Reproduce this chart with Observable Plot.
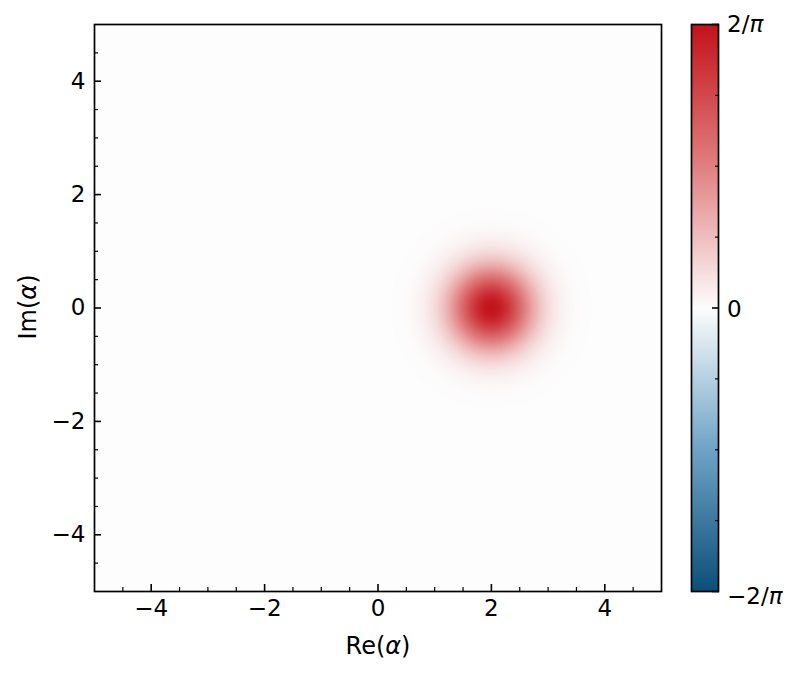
<!DOCTYPE html>
<html>
<head>
<meta charset="utf-8">
<script src="https://cdn.jsdelivr.net/npm/d3@7"></script>
<script src="https://cdn.jsdelivr.net/npm/@observablehq/plot@0.6"></script>
<style>
  html, body { margin: 0; padding: 0; background: #fff; }
  #wrap { position: relative; width: 804px; height: 673px; font-family: "DejaVu Sans", sans-serif; }
  #wrap svg { position: absolute; top: 0; overflow: visible; }
</style>
</head>
<body>
<div id="wrap"></div>
<script>
// ---- data ----
const peak = 2 / Math.PI;                 // colour limits ±2/π
const center = [2, 0];                    // blob centre (Re, Im)
// radial profile of the blob (distance from centre, fraction of peak)
const radius  = [0, 0.125, 0.25, 0.375, 0.5, 0.625, 0.75, 0.875, 1.0, 1.125, 1.25, 1.375, 1.5, 1.625, 1.75, 2.0, 2.5];
const profile = [1, 0.969, 0.882, 0.755, 0.607, 0.458, 0.325, 0.216, 0.135, 0.080, 0.044, 0.023, 0.011, 0.005, 0.002, 0.0003, 0];
const majorTicks = [-4, -2, 0, 2, 4];
const minorTicks = [-4.5, -3.5, -3, -2.5, -1.5, -1, -0.5, 0.5, 1, 1.5, 2.5, 3, 3.5, 4.5];
const cbarStops  = [-1, -0.5, 0, 0.5, 1];
const cbarColors = ["#0b4f78", "#6fa3c6", "#fdfdfd", "#e17f80", "#c3121a"];
const cbarMajor = [-1, 0, 1];
const cbarMinor = [-0.75, -0.5, -0.25, 0.25, 0.5, 0.75];
const cbarLabels = ["−2/", "0", "2/"];

const font = "DejaVu Sans, sans-serif";
const tickFont = 23;
const colorScale = {type: "linear", domain: cbarStops.map(d => d * peak), range: cbarColors, interpolate: "rgb", clamp: true};
const prof = d3.scaleLinear(radius, profile).clamp(true);
const fmt = d3.format("d");

const main = Plot.plot({
  width: 804, height: 673,
  marginLeft: 94, marginRight: 143, marginTop: 24, marginBottom: 82,
  style: {fontFamily: font, fontSize: tickFont + "px", background: "transparent"},
  x: {domain: [-5, 5]},
  y: {domain: [-5, 5]},
  color: colorScale,
  marks: [
    Plot.raster({
      x1: -5, x2: 5, y1: -5, y2: 5, width: 567, height: 567,
      fill: (x, y) => peak * prof(Math.hypot(x - center[0], y - center[1]))
    }),
    Plot.axisX(majorTicks, {tickSize: -7, strokeWidth: 1.6, text: null, label: null}),
    Plot.axisX(minorTicks, {tickSize: -4, strokeWidth: 1.2, text: null, label: null}),
    Plot.axisX(majorTicks, {tickSize: 0, tickPadding: 8, label: null, tickFormat: fmt, fontSize: tickFont}),
    Plot.axisY(majorTicks, {tickSize: -7, strokeWidth: 1.6, text: null, label: null}),
    Plot.axisY(minorTicks, {tickSize: -4, strokeWidth: 1.2, text: null, label: null}),
    Plot.axisY(majorTicks, {tickSize: 0, tickPadding: 9, label: null, tickFormat: fmt, fontSize: tickFont}),
    Plot.frame({stroke: "black", strokeWidth: 1.7})
  ]
});
main.style.left = "0px";

const cbar = Plot.plot({
  width: 123, height: 673,
  marginLeft: 10, marginRight: 86, marginTop: 24, marginBottom: 82,
  style: {fontFamily: font, fontSize: tickFont + "px", background: "transparent"},
  x: {domain: [0, 1], axis: null},
  y: {domain: [-peak, peak], axis: null},
  color: colorScale,
  marks: [
    Plot.raster({x1: 0, x2: 1, y1: -peak, y2: peak, width: 2, height: 567, fill: (x, y) => y}),
    Plot.axisY(cbarMajor.map(d => d * peak), {anchor: "right", tickSize: -7, strokeWidth: 1.6, text: null, label: null}),
    Plot.axisY(cbarMinor.map(d => d * peak), {anchor: "right", tickSize: -4, strokeWidth: 1.2, text: null, label: null}),
    Plot.frame({stroke: "black", strokeWidth: 1.7})
  ]
});
cbar.style.left = "681px";

const wrap = document.getElementById("wrap");
wrap.append(main, cbar);

// axis titles with italic alpha
const svg = d3.select(main);
const xt = svg.append("text").attr("x", 378).attr("y", 654).attr("text-anchor", "middle")
  .attr("font-family", font).attr("font-size", 24).attr("fill", "black");
xt.append("tspan").text("Re(");
xt.append("tspan").attr("font-style", "italic").text("α");
xt.append("tspan").text(")");
const yt = svg.append("text").attr("transform", "translate(36,307) rotate(-90)").attr("text-anchor", "middle")
  .attr("font-family", font).attr("font-size", 24).attr("fill", "black");
yt.append("tspan").text("Im(");
yt.append("tspan").attr("font-style", "italic").text("α");
yt.append("tspan").text(")");

// colour bar labels
const cs = d3.select(cbar);
const yS = cbar.scale("y");
const cbarDy = ["0.55em", "0.4em", "0.35em"];
cbarMajor.forEach((v, i) => {
  const t = cs.append("text").attr("x", 46).attr("y", yS.apply(v * peak)).attr("dy", cbarDy[i])
    .attr("text-anchor", "start")
    .attr("font-family", font).attr("font-size", 23).attr("fill", "black");
  t.append("tspan").text(cbarLabels[i]);
  if (v !== 0) t.append("tspan").attr("font-style", "italic").text("π");
});
</script>
</body>
</html>
